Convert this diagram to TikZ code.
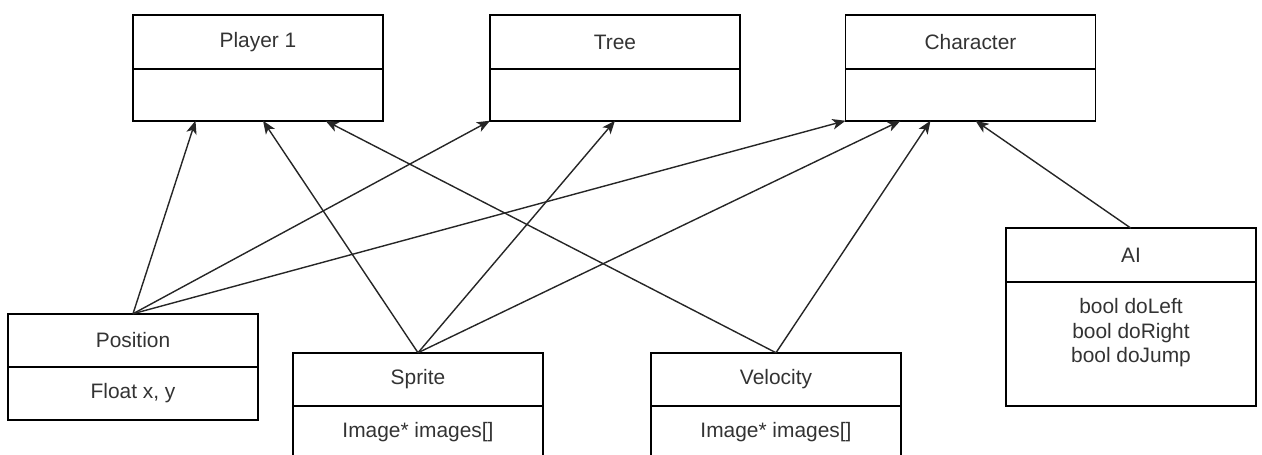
\documentclass[tikz,border=0pt]{standalone}
\usepackage{fontspec}
\setmainfont{Liberation Sans}
\usetikzlibrary{arrows.meta,positioning,calc}

\begin{document}
\begin{tikzpicture}[x=0.02cm,y=-0.02cm,
  head/.style={draw,line width=0.9pt,minimum width=5cm,minimum height=1.07cm,inner sep=0pt,outer sep=0pt,text=black!80,font=\fontsize{11.9}{14.2}\selectfont},
  body/.style={draw,line width=0.9pt,minimum width=5cm,inner sep=0pt,outer sep=0pt},
  field/.style={inner sep=0pt,align=center,text=black!80,font=\fontsize{11.9}{14.2}\selectfont},
  uses/.style={-{Stealth[length=7.5pt,width=6pt,inset=2pt]},line width=0.8pt,black!85}]
\clip (0,0) rectangle (1262,455);
% classes at the top
\node[head] (p1) at (258,42) {Player 1};
\node[body,minimum height=1.04cm,below=0pt of p1] (p1b) {};
\node[head] (tree) at (615,42) {Tree};
\node[body,minimum height=1.04cm,below=0pt of tree] (treeb) {};
\node[head] (char) at (970.5,42) {Character};
\node[body,minimum height=1.04cm,below=0pt of char] (charb) {};
% components
\node[head] (pos) at (133,340.5) {Position};
\node[body,minimum height=1.06cm,below=0pt of pos] (posb) {};
\node[field,below=9pt of posb.north] (posf) {Float x, y};
\node[head] (spr) at (418,379.5) {Sprite};
\node[body,minimum height=2cm,below=0pt of spr] (sprb) {};
\node[field,below=9pt of sprb.north] (sprf) {Image* images[]};
\node[head] (vel) at (776,379.5) {Velocity};
\node[body,minimum height=2cm,below=0pt of vel] (velb) {};
\node[field,below=9pt of velb.north] (velf) {Image* images[]};
\node[head] (ai) at (1131,255) {AI};
\node[body,minimum height=2.48cm,below=0pt of ai] (aib) {};
\node[field,below=9pt of aib.north] (aif) {bool doLeft\\bool doRight\\bool doJump};
% links
\draw[uses] (pos.north) -- ($(p1b.south west)!.25!(p1b.south east)$);
\draw[uses] (pos.north) -- (treeb.south west);
\draw[uses] (pos.north) -- (charb.south west);
\draw[uses] (spr.north) -- ($(p1b.south west)!.52!(p1b.south east)$);
\draw[uses] (spr.north) -- (treeb.south);
\draw[uses] (spr.north) -- ($(charb.south west)!.22!(charb.south east)$);
\draw[uses] (vel.north) -- ($(p1b.south west)!.77!(p1b.south east)$);
\draw[uses] (vel.north) -- ($(charb.south west)!.34!(charb.south east)$);
\draw[uses] (ai.north) -- ($(charb.south west)!.52!(charb.south east)$);
\end{tikzpicture}
\end{document}
